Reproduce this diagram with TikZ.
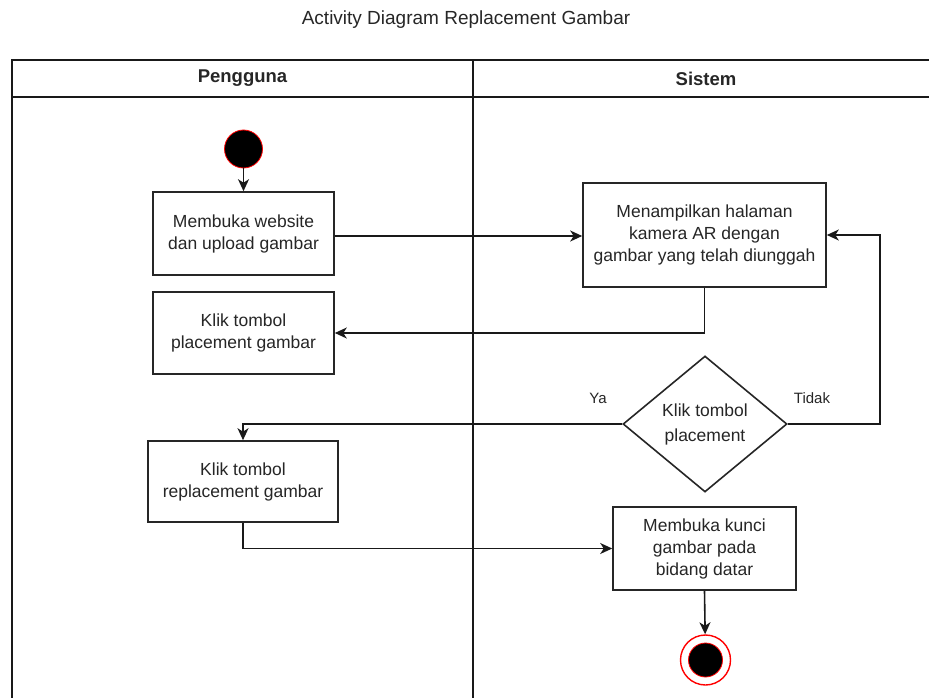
\documentclass[tikz,border=0pt]{standalone}
\usepackage{fontspec}
\setmainfont{Liberation Sans}
\usetikzlibrary{shapes.geometric,arrows.meta}
\begin{document}
\begin{tikzpicture}[x=1pt,y=-1pt,
  every node/.style={font=\fontsize{17.5}{22}\selectfont, text=black!85},
  act/.style={draw=black!85, line width=1.6pt, fill=white, align=center, inner sep=0pt},
  decide/.style={diamond, draw=black!85, line width=1.6pt, fill=white, align=center, inner sep=0pt,
    minimum width=164pt, minimum height=136pt},
  flow/.style={draw=black!90, line width=1.6pt, -{Stealth[length=12pt,width=11pt,inset=3.5pt]}},
  lane/.style={draw=black!90, line width=1.9pt},
  guard/.style={font=\fontsize{15}{18}\selectfont}]
\useasboundingbox (0,0) rectangle (929,698);

% title
\node (title) at (466,20) {\fontsize{19}{23}\selectfont Activity Diagram Replacement Gambar};

% swimlanes
\draw[lane] (12,698) -- (12,60) -- (929,60);
\draw[lane] (12,97) -- (929,97);
\draw[lane] (473,60) -- (473,698);
\node[font=\bfseries\fontsize{18.5}{22}\selectfont] (lp) at (242.5,78.5) {Pengguna};
\node[font=\bfseries\fontsize{18.5}{22}\selectfont] (ls) at (706,78.5) {Sistem};

% start and end
\node[circle, fill=black, draw=red, line width=0.8pt, minimum size=38pt, inner sep=0pt] (start) at (243.5,149) {};
\node[circle, fill=white, draw=red, line width=1.4pt, minimum size=50pt, inner sep=0pt] (end) at (705.5,660) {};
\node[circle, fill=black, draw=red, line width=0.8pt, minimum size=34pt, inner sep=0pt] (endc) at (705.5,660) {};

% activities
\node[act, minimum width=181pt, minimum height=83pt] (b1) at (243.5,233.5) {Membuka website\\dan upload gambar};
\node[act, minimum width=181pt, minimum height=82pt] (b2) at (243.5,333) {Klik tombol\\placement gambar};
\node[act, minimum width=243pt, minimum height=104pt] (b3) at (704.5,235) {Menampilkan halaman\\kamera AR dengan\\gambar yang telah diunggah};
\node[act, minimum width=190pt, minimum height=81pt] (b4) at (243,481.5) {Klik tombol\\replacement gambar};
\node[act, minimum width=183pt, minimum height=83pt] (b5) at (704.5,548.5) {Membuka kunci\\gambar pada\\bidang datar};
\node[decide, font=\fontsize{17.5}{25}\selectfont] (d) at (705,424) {Klik tombol\\placement};

% guards
\node[guard] (ya) at (598,398) {Ya};
\node[guard] (tidak) at (812,398) {Tidak};

% flows
\coordinate (back) at (880,424);
\draw[flow] (start) -- (b1);
\draw[flow] (b1.east |- 0,236) -- (b3.west |- 0,236);
\draw[flow] (b3.south) |- (b2.east);
\draw[flow] (d.east) -- (back) |- (b3.east);
\draw[flow] (d.west) -| (b4.north);
\draw[flow] (b4.south) |- (b5.west);
\draw[flow] (b5.south) -- (end);
\end{tikzpicture}
\end{document}
